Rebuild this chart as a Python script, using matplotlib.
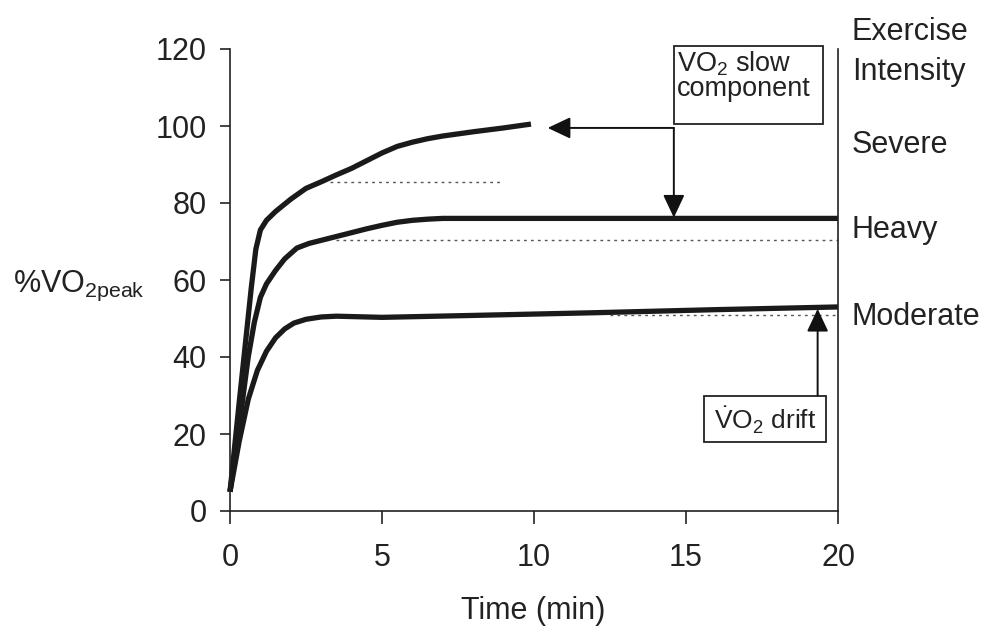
import matplotlib
matplotlib.use("Agg")
import matplotlib.pyplot as plt
from matplotlib.patches import Rectangle

plt.rcParams['font.family'] = ['Liberation Sans', 'DejaVu Sans']
plt.rcParams['mathtext.fontset'] = 'custom'
plt.rcParams['mathtext.rm'] = 'Liberation Sans'
plt.rcParams['mathtext.it'] = 'Liberation Sans:italic'

# ---- data ----
severe_t = [0, 0.3, 0.5, 0.7, 0.85, 1.0, 1.2, 1.5, 2.0, 2.5, 3.0, 3.5, 4.0, 4.5,
            5.0, 5.5, 6.0, 6.5, 7.0, 8.0, 9.0, 9.9]
severe_y = [5, 28, 43, 58, 68, 73, 75.5, 77.8, 81, 83.8, 85.5, 87.3, 89, 91,
            93, 94.7, 95.8, 96.7, 97.4, 98.5, 99.5, 100.5]

heavy_t = [0, 0.3, 0.6, 0.8, 1.0, 1.2, 1.5, 1.8, 2.2, 2.6, 3.0, 3.5, 4.0, 4.5,
           5.0, 5.5, 6.0, 6.5, 7.0, 10.0, 20.0]
heavy_y = [5, 22, 40, 49, 55.5, 59, 62.5, 65.5, 68.3, 69.5, 70.3, 71.3, 72.3, 73.3,
           74.2, 75, 75.5, 75.8, 76, 76, 76]

moderate_t = [0, 0.3, 0.6, 0.9, 1.2, 1.5, 1.8, 2.1, 2.5, 3.0, 3.5, 5.0, 8.0, 12.0, 16.0, 20.0]
moderate_y = [5, 18, 29, 36.5, 41.5, 45, 47.3, 48.8, 49.8, 50.4, 50.6, 50.3, 50.8, 51.5, 52.3, 53]

# steady-state baselines (level, start, end)
base_levels = [85.5, 70.5, 51.0]
base_start = [3.3, 3.5, 12.5]
base_end = [8.9, 20.0, 20.0]

intensity_labels = ['Severe', 'Heavy', 'Moderate']
intensity_y = [95.0, 73.0, 50.3]

x_ticks = [0, 5, 10, 15, 20]
y_ticks = [0, 20, 40, 60, 80, 100, 120]

# ---- figure ----
fig = plt.figure(figsize=(9.85, 6.27), dpi=100)
ax = fig.add_axes([230/985, 1-511/627, (838-230)/985, (511-49)/627])
ax.set_xlim(0, 20)
ax.set_ylim(0, 120)

ax.spines['top'].set_visible(False)
for s in ['left', 'bottom', 'right']:
    ax.spines[s].set_linewidth(1.2)
    ax.spines[s].set_color('#222222')

ax.set_xticks(x_ticks)
ax.set_yticks(y_ticks)
ax.tick_params(axis='y', direction='out', length=7, width=1.2, pad=10, labelsize=22, colors='#222222')
ax.tick_params(axis='x', direction='out', length=9, width=1.2, pad=14, labelsize=22, colors='#222222')
ax.yaxis.set_ticks_position('left')

lw = 3.8
for tt, yy in [(severe_t, severe_y), (heavy_t, heavy_y), (moderate_t, moderate_y)]:
    ax.plot(tt, yy, color='#1a1a1a', lw=lw, solid_capstyle='butt',
            solid_joinstyle='round', clip_on=False)

for lv, s, e in zip(base_levels, base_start, base_end):
    ax.plot([s, e], [lv, lv], color='#555555', lw=1.0, linestyle=(0, (2, 3)))

# right-hand labels
for lab, yy in zip(intensity_labels, intensity_y):
    ax.text(20.45, yy, lab, fontsize=22, va='center', ha='left', color='#222222', clip_on=False)
ax.text(20.45, 124.5, 'Exercise', fontsize=22, va='center', ha='left', color='#222222', clip_on=False)
ax.text(20.45, 114.0, 'Intensity', fontsize=22, va='center', ha='left', color='#222222', clip_on=False)

# slow component box and arrows
ax.add_patch(Rectangle((14.6, 100.5), 4.9, 20.3, fill=False, lw=1.3, edgecolor='#222222', clip_on=False))
ax.text(14.7, 120.0, 'VO$_2$ slow\ncomponent', fontsize=19.5, va='top', ha='left',
        color='#222222', linespacing=0.95, clip_on=False)
arrow_style = '-|>,head_length=0.7,head_width=0.33'
ax.annotate('', xy=(10.45, 99.5), xytext=(14.6, 99.5),
            arrowprops=dict(arrowstyle=arrow_style, mutation_scale=20, lw=1.4,
                            color='#111111', shrinkA=0, shrinkB=0))
ax.annotate('', xy=(14.6, 76.2), xytext=(14.6, 99.5),
            arrowprops=dict(arrowstyle=arrow_style, mutation_scale=20, lw=1.4,
                            color='#111111', shrinkA=0, shrinkB=0))

# drift box and arrow
ax.add_patch(Rectangle((15.6, 18.0), 4.0, 12.0, fill=False, lw=1.3, edgecolor='#222222', clip_on=False))
ax.text(17.6, 23.6, r'$\dot{\mathrm{V}}$O$_2$ drift', fontsize=19, va='center', ha='center',
        color='#222222', clip_on=False)
ax.annotate('', xy=(19.33, 52.5), xytext=(19.33, 30.0),
            arrowprops=dict(arrowstyle=arrow_style, mutation_scale=20, lw=1.4,
                            color='#111111', shrinkA=0, shrinkB=0))

# axis labels
fig.text(13/985, 1-292/627, '%VO$_{\\mathrm{2peak}}$', fontsize=22, va='baseline', ha='left', color='#222222')
fig.text(533/985, 1-611/627, 'Time (min)', fontsize=22, va='center', ha='center', color='#222222')

fig.savefig('out.png', dpi=100, facecolor='white')
